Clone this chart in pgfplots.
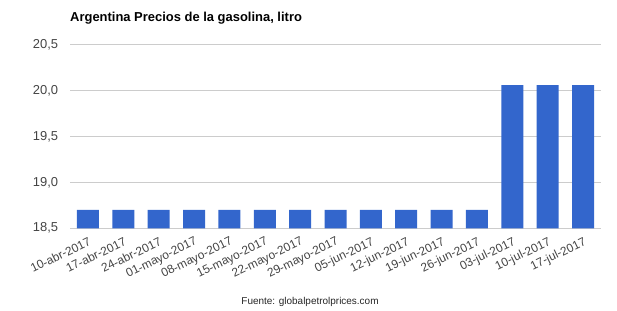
\documentclass[border=0pt]{standalone}
\usepackage{pgfplots}
\pgfplotsset{compat=1.18}
\usepackage{fontspec}
\setmainfont{Liberation Sans}
\definecolor{barblue}{HTML}{3366CC}
\definecolor{gridgray}{HTML}{CCCCCC}
\definecolor{labgray}{HTML}{444444}
\begin{document}
\begin{tikzpicture}[x=1bp,y=1bp]
\path[use as bounding box] (0,0) rectangle (617,310);
\begin{axis}[
  at={(70.3bp,81.7bp)}, anchor=south west,
  scale only axis, width=530.4bp, height=183.6bp,
  ymin=18.5, ymax=20.5,
  xmin=-0.5, xmax=14.5,
  ytick={18.5,19,19.5,20,20.5},
  yticklabels={{18,5},{19,0},{19,5},{20,0},{20,5}},
  xtick={0,...,14},
  xticklabels={10-abr-2017,17-abr-2017,24-abr-2017,01-mayo-2017,08-mayo-2017,15-mayo-2017,22-mayo-2017,29-mayo-2017,05-jun-2017,12-jun-2017,19-jun-2017,26-jun-2017,03-jul-2017,10-jul-2017,17-jul-2017},
  major tick length=0pt,
  axis line style={draw=none},
  ymajorgrids, grid style={gridgray, line width=0.8bp},
  yticklabel style={font=\fontsize{13}{13}\selectfont, text=labgray, anchor=east, inner sep=0pt, xshift=-12bp},
  xticklabel style={font=\fontsize{12}{12}\selectfont, text=labgray, yshift=-8bp, rotate=26, anchor=north east, inner sep=0pt},
  ybar, bar width=22bp, bar shift=0pt,
]
\addplot[fill=barblue, draw=none] coordinates {
(0,18.70) (1,18.70) (2,18.70) (3,18.70) (4,18.70) (5,18.70) (6,18.70) (7,18.70)
(8,18.70) (9,18.70) (10,18.70) (11,18.70) (12,20.06) (13,20.06) (14,20.06)};
\end{axis}
\node[anchor=base west, inner sep=0pt, font=\bfseries\fontsize{13}{13}\selectfont] at (70,289) {Argentina Precios de la gasolina, litro};
\node[anchor=center, inner sep=0pt, font=\fontsize{10}{10}\selectfont, text=black!85] at (310,8) {Fuente: globalpetrolprices.com};
\end{tikzpicture}
\end{document}
